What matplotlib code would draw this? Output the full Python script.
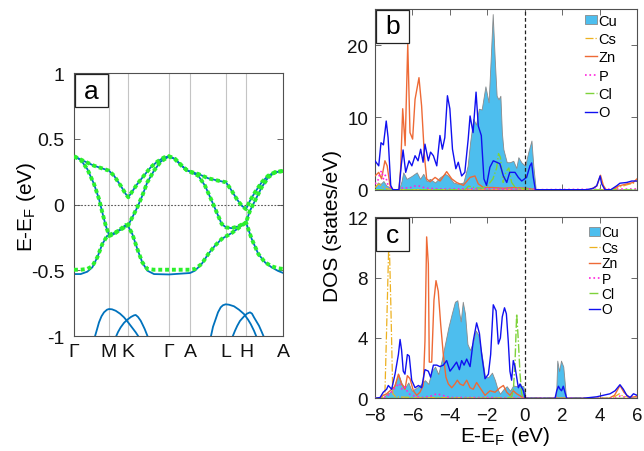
import numpy as np
import matplotlib
matplotlib.use("Agg")
import matplotlib.pyplot as plt
from matplotlib.patches import Rectangle

plt.rcParams["font.family"] = ["Liberation Sans", "DejaVu Sans"]
plt.rcParams["mathtext.fontset"] = "custom"
plt.rcParams["mathtext.rm"] = "Liberation Sans"
plt.rcParams["mathtext.it"] = "Liberation Sans:italic"

FIG_W, FIG_H = 644, 452

# ---------------- band structure (panel a) ----------------
kpath_pos = [0, 35, 54, 95, 116, 152, 172, 209]
kpath_labels = ["Γ", "M", "K", "Γ", "A", "L", "H", "A"]

band1_k = [0, 10, 20, 30, 35, 40, 46.7, 51.7, 54.3, 58.3, 63.3, 70, 76.7, 83.3, 90, 95,
           101, 107.7, 112.7, 116, 124.3, 134.3, 144.3, 152, 157.7, 162.7, 167.7, 172,
           176, 181, 187.7, 194.3, 201, 209]
band1_E = [0.366, 0.33, 0.295, 0.27, 0.257, 0.219, 0.143, 0.08, 0.055, 0.1, 0.156, 0.22, 0.283,
           0.326, 0.358, 0.366, 0.346, 0.295, 0.262, 0.25, 0.232, 0.199, 0.181, 0.169, 0.105,
           0.042, -0.009, -0.035, 0.029, 0.093, 0.169, 0.22, 0.245, 0.255]

band2_k = [0, 6.7, 13.3, 20, 25, 28.3, 31.7, 35, 40, 46.7, 51.7, 54.3, 58.3, 63.3, 68.3, 73.3,
           80, 86.7, 95, 101, 107.7, 112.7, 116, 124.3, 131, 137.7, 142.7, 147.7, 152, 157.7,
           164.3, 172, 177.7, 184.3, 191, 197.7, 204, 209]
band2_E = [0.366, 0.34, 0.27, 0.156, 0.042, -0.06, -0.16, -0.232, -0.217, -0.192, -0.166,
           -0.156, -0.098, -0.022, 0.067, 0.169, 0.257, 0.326, 0.366, 0.346, 0.295, 0.262,
           0.25, 0.219, 0.143, 0.029, -0.06, -0.148, -0.174, -0.18, -0.166, -0.136, -0.262,
           -0.376, -0.44, -0.478, -0.505, -0.52]
band2_E_green = [0.366, 0.34, 0.27, 0.156, 0.042, -0.06, -0.16, -0.232, -0.217, -0.192,
                 -0.166, -0.156, -0.098, -0.022, 0.067, 0.169, 0.257, 0.326, 0.366, 0.346,
                 0.295, 0.262, 0.25, 0.219, 0.143, 0.029, -0.06, -0.148, -0.174, -0.18,
                 -0.166, -0.136, -0.262, -0.376, -0.44, -0.47, -0.485, -0.49]

band3_k = [0, 6.7, 13.3, 18.3, 23.3, 28.3, 33.3, 35, 40, 46.7, 51.7, 54.3, 58.3, 63.3, 68.3,
           73.3, 80, 95, 116, 121, 127.7, 134.3, 141, 147.7, 152, 157.7, 164.3, 172, 176,
           181, 187.7, 194.3, 201, 209]
band3_E = [-0.529, -0.529, -0.511, -0.478, -0.402, -0.301, -0.237, -0.24, -0.225, -0.186,
           -0.156, -0.166, -0.224, -0.338, -0.44, -0.503, -0.529, -0.532, -0.521, -0.503,
           -0.452, -0.376, -0.313, -0.262, -0.242, -0.217, -0.18, -0.136, -0.047, 0.029,
           0.131, 0.207, 0.245, 0.255]
band3_E_green = [-0.496, -0.496, -0.49, -0.47, -0.402, -0.301, -0.237, -0.24, -0.225, -0.186,
                 -0.156, -0.166, -0.224, -0.338, -0.44, -0.49, -0.496, -0.496, -0.496, -0.49,
                 -0.452, -0.376, -0.313, -0.262, -0.242, -0.217, -0.18, -0.136, -0.047,
                 0.029, 0.131, 0.207, 0.245, 0.255]

low1_k = [20.7, 23, 25, 27.5, 30, 33, 35, 38, 41.7, 46, 50, 54, 56.7, 59, 61.7, 65]
low1_E = [-1.01, -0.95, -0.896, -0.85, -0.82, -0.80, -0.795, -0.797, -0.808, -0.83, -0.858,
          -0.895, -0.922, -0.945, -0.972, -1.01]
low2_k = [41.7, 44, 46.7, 50, 53.3, 57, 60, 61.7, 64, 66.7, 68.7, 70.7, 74]
low2_E = [-1.01, -0.97, -0.934, -0.90, -0.876, -0.855, -0.843, -0.84, -0.855, -0.884, -0.915,
          -0.947, -1.01]
low3_k = [136.7, 139, 141.7, 144, 146.7, 149, 151.7, 155, 160, 165, 170, 174, 176.7, 180,
          182.7]
low3_E = [-1.01, -0.93, -0.871, -0.82, -0.782, -0.766, -0.759, -0.762, -0.774, -0.80, -0.833,
          -0.875, -0.909, -0.96, -1.01]
low4_k = [158.3, 161, 163.3, 166, 170, 173, 176, 178, 180, 182.5, 185, 187.5, 190]
low4_E = [-1.01, -0.96, -0.922, -0.885, -0.851, -0.83, -0.82, -0.83, -0.858, -0.89, -0.922,
          -0.965, -1.01]

# ---------------- DOS panel b ----------------
cu_b_E = [-8.0, -7.85, -7.7, -7.55, -7.4, -7.2, -7.05, -6.72, -6.58, -6.49, -6.31, -6.04,
          -5.77, -5.59, -5.42, -5.24, -5.06, -4.79, -4.53, -4.26, -4.08, -3.81, -3.55, -3.28,
          -3.05, -2.92, -2.75, -2.6, -2.45, -2.3, -2.1, -1.93, -1.82, -1.71, -1.6, -1.5,
          -1.4, -1.3, -1.22, -1.14, -0.96, -0.79, -0.61, -0.45, -0.34, -0.18, 0.02, 0.19,
          0.36, 0.46, 0.59, 6.0]
cu_b = [0.3, 1.0, 0.8, 1.2, 0.6, 0.3, 0.0, 0.0, 1.2, 2.4, 1.5, 1.9, 2.4, 1.5, 2.2, 1.2, 1.5,
        1.0, 1.7, 2.2, 1.9, 1.0, 0.8, 1.0, 3.3, 6.5, 9.8, 9.0, 11.2, 11.1, 14.3, 12.1, 18.0,
        24.3, 18.0, 13.0, 12.5, 13.0, 7.9, 5.6, 3.8, 3.8, 4.0, 3.0, 4.5, 3.8, 3.3, 5.2, 6.8,
        3.3, 0.0, 0.0]

cs_b_E = [-8.0, -7.8, -7.6, -7.3, -7.05, 4.6, 5.0, 5.5, 5.8, 6.0]
cs_b = [0.3, 0.8, 0.4, 0.1, 0.0, 0.0, 0.3, 0.7, 0.9, 1.2]

zn_b_E = [-8.0, -7.8, -7.65, -7.47, -7.35, -7.2, -7.05, -6.72, -6.63, -6.52, -6.39, -6.25,
          -6.13, -5.99, -5.86, -5.65, -5.51, -5.36, -5.24, -5.06, -4.79, -4.52, -4.17, -3.9,
          -3.64, -3.28, -2.92, -2.66, -2.48, -2.2, -1.67, -1.14, -0.6, 0.1, 0.6, 3.5, 3.85,
          4.05, 4.2, 4.35, 4.7, 5.0, 5.45, 5.8, 6.0]
zn_b = [1.9, 2.4, 1.5, 4.0, 3.3, 0.6, 0.0, 0.0, 2.9, 11.2, 6.1, 20.1, 7.9, 7.0, 12.5, 15.5,
        11.6, 4.7, 1.5, 1.1, 1.7, 1.2, 2.5, 1.5, 1.0, 0.6, 1.7, 1.9, 0.8, 0.3, 0.3, 0.2, 0.3,
        0.2, 0.0, 0.0, 0.5, 2.0, 0.6, 0.0, 0.0, 0.5, 0.8, 1.0, 1.5]

p_b_E = [-8.0, -7.85, -7.75, -7.65, -7.55, -7.45, -7.3, -7.1, -7.0, -6.7, -6.5, -6.2, -5.9,
         -5.6, -5.3, -4.5, -3.5, -2.5, -1.5, 0.5, 0.6, 6.0]
p_b = [0.8, 1.2, 2.2, 2.6, 1.5, 2.0, 0.6, 0.1, 0.0, 0.0, 0.3, 0.2, 0.5, 0.5, 0.2, 0.1, 0.1,
       0.15, 0.1, 0.05, 0.0, 0.1]

cl_b_E = [-8.0, -3.2, -3.0, -2.7, -2.3, -2.0, -1.7, -1.5, -1.4, -1.3, -1.15, -1.0, -0.85,
          -0.7, -0.5, 0.0, 0.6, 6.0]
cl_b = [0.0, 0.0, 0.5, 0.3, 0.2, 0.5, 1.5, 3.0, 5.0, 4.5, 1.0, 2.5, 3.0, 1.0, 0.3, 0.1, 0.0,
        0.0]

o_b_E = [-8.0, -7.8, -7.68, -7.55, -7.4, -7.3, -7.16, -7.05, -6.72, -6.6, -6.5, -6.36, -6.18,
         -6.03, -5.86, -5.7, -5.56, -5.43, -5.33, -5.15, -5.03, -4.88, -4.7, -4.53, -4.4,
         -4.27, -4.13, -4.0, -3.86, -3.68, -3.55, -3.37, -3.2, -3.02, -2.92, -2.76, -2.6,
         -2.48, -2.32, -2.18, -2.04, -1.86, -1.68, -1.5, -1.33, -1.14, -0.96, -0.8, -0.52,
         -0.34, -0.16, 0.1, 0.28, 0.37, 0.46, 0.57, 3.3, 3.67, 3.85, 4.03, 4.11, 4.29, 4.6,
         4.92, 5.09, 5.45, 5.72, 6.0]
o_b = [4.0, 3.3, 6.5, 6.2, 9.5, 7.2, 0.6, 0.0, 0.0, 3.3, 5.5, 2.4, 4.0, 3.3, 4.7, 4.0, 5.6,
       3.8, 6.3, 4.0, 5.2, 4.7, 3.3, 7.5, 5.6, 7.2, 13.0, 11.2, 5.6, 2.9, 3.8, 1.9, 2.4, 7.0,
       10.2, 7.9, 13.5, 8.8, 7.5, 1.5, 0.6, 3.1, 4.0, 3.8, 3.6, 1.9, 1.0, 2.4, 2.4, 1.7, 1.2,
       1.7, 3.3, 3.7, 1.7, 0.0, 0.0, 0.2, 0.55, 1.9, 0.8, 0.0, 0.0, 0.55, 0.9, 1.0, 1.2, 1.2]

# ---------------- DOS panel c ----------------
cu_c_E = [-8.0, -7.6, -7.38, -7.2, -7.02, -6.75, -6.58, -6.4, -6.22, -6.04, -5.77, -5.51,
          -5.33, -5.15, -4.97, -4.79, -4.62, -4.44, -4.26, -4.08, -3.9, -3.73, -3.6, -3.49,
          -3.42, -3.31, -3.19, -3.06, -2.92, -2.75, -2.62, -2.48, -2.3, -2.12, -1.94, -1.75,
          -1.59, -1.45, -1.32, -1.14, -0.96, -0.79, -0.61, -0.43, -0.25, -0.07, 0.02, 1.67,
          1.74, 1.84, 1.94, 2.06, 2.14, 2.21, 6.0]
cu_c = [0.0, 0.0, 0.3, 0.4, 0.7, 1.6, 1.0, 0.7, 1.05, 0.5, 0.7, 0.95, 1.2, 0.95, 1.8, 2.1,
        1.6, 2.5, 3.6, 4.7, 5.6, 6.4, 6.5, 5.6, 5.1, 6.4, 5.6, 3.6, 3.2, 3.8, 4.5, 4.2, 2.9,
        1.4, 1.4, 1.7, 1.2, 0.6, 0.3, 0.6, 0.8, 0.5, 0.85, 0.8, 0.85, 0.8, 0.0, 0.0, 2.5, 1.8,
        2.5, 2.1, 1.0, 0.0, 0.0]

cs_c_E = [-8.0, -7.6, -7.47, -7.35, -7.25, -7.15, -7.05, -6.9, -6.0, 4.5, 4.8, 5.05, 5.3, 6.0]
cs_c = [0.0, 0.05, 0.3, 6.0, 11.0, 6.0, 0.3, 0.1, 0.05, 0.0, 0.1, 0.3, 0.1, 0.1]

zn_c_E = [-8.0, -7.7, -7.55, -7.38, -7.11, -6.93, -6.75, -6.58, -6.4, -6.27, -6.13, -5.95,
          -5.77, -5.6, -5.42, -5.33, -5.24, -5.15, -5.1, -4.97, -4.85, -4.74, -4.62, -4.49,
          -4.35, -4.21, -4.08, -3.9, -3.73, -3.6, -3.46, -3.28, -3.1, -2.92, -2.75, -2.57,
          -2.39, -2.12, -1.85, -1.59, -1.32, -1.14, -0.96, -0.79, -0.61, -0.43, -0.16, 0.0,
          4.5, 4.8, 5.09, 5.3, 5.6, 5.9, 6.0]
zn_c = [0.0, 0.05, 0.2, 0.3, 0.6, 0.8, 1.6, 0.95, 0.6, 1.5, 1.3, 0.5, 0.2, 0.4, 0.85, 3.8,
        10.7, 8.9, 2.4, 2.4, 6.5, 7.8, 7.1, 4.9, 2.9, 1.4, 0.95, 0.7, 0.95, 1.2, 0.95, 0.85,
        1.2, 0.7, 0.6, 1.05, 0.7, 0.2, 0.5, 0.4, 0.7, 0.85, 0.4, 0.2, 0.5, 0.3, 0.1, 0.0, 0.0,
        0.2, 0.85, 0.4, 0.05, 0.1, 0.15]

p_c_E = [-8.0, -7.5, -7.2, -7.0, -6.85, -6.7, -6.55, -6.4, -6.2, -5.9, -5.5, -5.0, -4.7,
         -4.4, -4.0, -3.0, -2.0, 0.0, 4.8, 5.1, 5.4, 6.0]
p_c = [0.0, 0.05, 0.3, 0.6, 0.8, 1.0, 0.6, 0.75, 0.3, 0.15, 0.05, 0.15, 0.3, 0.2, 0.05, 0.05,
       0.05, 0.0, 0.0, 0.15, 0.05, 0.05]

cl_c_E = [-8.0, -1.0, -0.7, -0.61, -0.52, -0.43, -0.34, -0.25, -0.16, -0.07, 0.0, 6.0]
cl_c = [0.0, 0.0, 0.1, 0.5, 2.3, 5.6, 3.8, 1.6, 0.3, 0.05, 0.0, 0.0]

o_c_E = [-8.0, -7.73, -7.56, -7.38, -7.29, -7.11, -6.93, -6.75, -6.66, -6.58, -6.49, -6.4,
         -6.27, -6.17, -6.04, -5.86, -5.68, -5.51, -5.33, -5.15, -5.03, -4.88, -4.7, -4.53,
         -4.35, -4.17, -3.99, -3.81, -3.64, -3.49, -3.37, -3.24, -3.1, -2.92, -2.75, -2.57,
         -2.42, -2.3, -2.12, -1.94, -1.82, -1.68, -1.53, -1.41, -1.3, -1.2, -1.08, -0.98,
         -0.88, -0.79, -0.7, -0.61, -0.52, -0.43, -0.34, -0.25, -0.07, 0.02, 1.62, 1.71, 1.8,
         1.89, 1.97, 2.06, 2.15, 2.24, 3.1, 3.85, 4.2, 4.56, 4.83, 5.09, 5.27, 5.45, 5.63,
         5.81, 6.0]
o_c = [0.0, 0.05, 0.4, 0.6, 0.85, 0.6, 1.6, 2.9, 3.9, 3.2, 1.8, 1.6, 2.9, 2.8, 1.2, 0.7, 0.85,
       0.7, 1.9, 1.8, 1.4, 2.2, 2.2, 2.1, 2.2, 2.5, 1.8, 2.1, 2.4, 1.9, 2.5, 2.2, 2.6, 2.1,
       3.8, 5.0, 4.3, 2.9, 1.3, 1.6, 2.9, 6.2, 5.8, 3.6, 4.0, 5.4, 6.0, 5.6, 3.8, 1.8, 1.2,
       2.5, 2.1, 1.4, 0.7, 0.95, 0.5, 0.0, 0.0, 0.5, 0.8, 0.6, 0.5, 0.8, 0.4, 0.0, 0.0, 0.1,
       0.2, 0.3, 0.5, 0.9, 0.6, 0.2, 0.05, 0.3, 0.2]

# styles
BLUE_BAND = "#0072BD"
GREEN_BAND = "#2CF02C"
CU_COLOR = "#4DBEEE"
CS_COLOR = "#EDB120"
ZN_COLOR = "#EE6A36"
P_COLOR = "#FF22DD"
CL_COLOR = "#7ED23A"
O_COLOR = "#1010F0"
FRAME = "#505050"


def style_frame(ax, labelsize=14):
    for sp in ax.spines.values():
        sp.set_color(FRAME)
        sp.set_linewidth(0.8)
    ax.tick_params(direction="in", top=True, right=True, length=4, width=0.6,
                   color=FRAME, labelsize=labelsize, labelcolor="#111111")


def add_panel_label(ax, letter):
    pos = ax.get_position()
    w_px = pos.width * FIG_W
    h_px = pos.height * FIG_H
    bw, bh = 33 / w_px, 33 / h_px
    x0, y1 = 1 / w_px, 1 - 1 / h_px
    ax.add_patch(Rectangle((x0, y1 - bh), bw, bh, transform=ax.transAxes,
                           facecolor="white", edgecolor="#222222", linewidth=0.9,
                           zorder=10, clip_on=False))
    ax.text(x0 + bw / 2, y1 - bh / 2, letter, transform=ax.transAxes, fontsize=19,
            ha="center", va="center", zorder=11)


fig = plt.figure(figsize=(FIG_W / 100, FIG_H / 100), dpi=100)

# ---- panel a ----
ax_a = fig.add_axes([74 / FIG_W, 1 - 337 / FIG_H, 209 / FIG_W, 263 / FIG_H])
for kx in kpath_pos[1:-1]:
    ax_a.axvline(kx, color="#c4c4c4", lw=0.8, zorder=0)
ax_a.axhline(0, color="#555555", lw=0.8, ls=(0, (1.5, 1.5)), zorder=1)

for kk, ee in [(band1_k, band1_E), (band2_k, band2_E), (band3_k, band3_E),
               (low1_k, low1_E), (low2_k, low2_E), (low3_k, low3_E), (low4_k, low4_E)]:
    ax_a.plot(kk, ee, color=BLUE_BAND, lw=1.3, zorder=2)
for kk, ee in [(band1_k, band1_E), (band2_k, band2_E_green), (band3_k, band3_E_green)]:
    ax_a.plot(kk, ee, color=GREEN_BAND, lw=2.8, dashes=(1, 0.75), zorder=3)

ax_a.set_xlim(0, 209)
ax_a.set_ylim(-1, 1)
ax_a.set_xticks(kpath_pos)
ax_a.set_xticklabels(kpath_labels)
ax_a.set_yticks([-1, -0.5, 0, 0.5, 1])
ax_a.set_yticklabels(["-1", "-0.5", "0", "0.5", "1"])
style_frame(ax_a)
ax_a.tick_params(axis="x", length=0, pad=5)
ax_a.tick_params(axis="y", pad=7)
add_panel_label(ax_a, "a")
fig.text(27 / FIG_W, 1 - 207 / FIG_H, r"E-E$_\mathregular{F}$ (eV)", rotation=90,
         ha="center", va="center", fontsize=15)


def draw_dos(ax, cu_E, cu, cs_E, cs, zn_E, zn, p_E, p, cl_E, cl, o_E, o):
    ax.fill_between(cu_E, 0, cu, facecolor=CU_COLOR, edgecolor="#8a8a8a", lw=0.6,
                    label="Cu", zorder=2)
    ax.plot(cs_E, cs, color=CS_COLOR, lw=0.9, ls="-.", label="Cs", zorder=3)
    ax.plot(zn_E, zn, color=ZN_COLOR, lw=1.0, label="Zn", zorder=3)
    ax.plot(p_E, p, color=P_COLOR, lw=1.2, ls=":", label="P", zorder=3)
    ax.plot(cl_E, cl, color=CL_COLOR, lw=1.0, ls="-.", label="Cl", zorder=3)
    ax.plot(o_E, o, color=O_COLOR, lw=1.0, label="O", zorder=4)
    ax.axvline(0, color="#222222", lw=0.9, ls=(0, (3, 2)), zorder=5)
    ax.set_xlim(-8, 6)
    ax.set_xticks(np.arange(-8, 7, 2))
    style_frame(ax, labelsize=13.5)
    ax.tick_params(axis="y", pad=5)


# ---- panel b ----
ax_b = fig.add_axes([375 / FIG_W, 1 - 190.7 / FIG_H, 262 / FIG_W, 180.7 / FIG_H])
draw_dos(ax_b, cu_b_E, cu_b, cs_b_E, cs_b, zn_b_E, zn_b, p_b_E, p_b, cl_b_E, cl_b, o_b_E, o_b)
ax_b.set_ylim(0, 25)
ax_b.set_yticks([0, 10, 20])
ax_b.set_xticklabels([])
add_panel_label(ax_b, "b")
ax_b.legend(loc="upper left", bbox_to_anchor=(0.80, 0.975), frameon=False, fontsize=10.5,
            handlelength=0.85, handletextpad=0.1, labelspacing=0.3, borderpad=0,
            borderaxespad=0, handleheight=0.6)

# ---- panel c ----
ax_c = fig.add_axes([375 / FIG_W, 1 - 399.3 / FIG_H, 262 / FIG_W, 181 / FIG_H])
draw_dos(ax_c, cu_c_E, cu_c, cs_c_E, cs_c, zn_c_E, zn_c, p_c_E, p_c, cl_c_E, cl_c, o_c_E, o_c)
ax_c.set_ylim(0, 12)
ax_c.set_yticks([0, 4, 8, 12])
ax_c.tick_params(axis="x", pad=6)
add_panel_label(ax_c, "c")
ax_c.legend(loc="upper left", bbox_to_anchor=(0.815, 0.955), frameon=False, fontsize=10,
            handlelength=0.85, handletextpad=0.1, labelspacing=0.1, borderpad=0,
            borderaxespad=0, handleheight=0.6)

fig.text(332 / FIG_W, 1 - 226 / FIG_H, "DOS (states/eV)", rotation=90, ha="center",
         va="center", fontsize=15)
fig.text(505 / FIG_W, 1 - 437 / FIG_H, r"E-E$_\mathregular{F}$ (eV)", ha="center",
         va="center", fontsize=15)

fig.savefig("out.png", dpi=100)
